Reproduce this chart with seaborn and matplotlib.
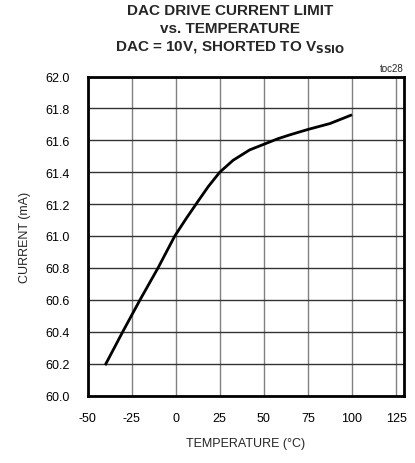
import matplotlib
matplotlib.use("Agg")
import matplotlib.pyplot as plt
import seaborn as sns
import pandas as pd

# Supply current limit vs. temperature
temperature_c = [-40, -30, -20.2, -10, -0.5, 6, 12.5, 18.5, 25, 32.6, 42, 50, 58, 65, 75, 87.5, 100]
current_ma = [60.19, 60.40, 60.60, 60.80, 61.00, 61.11, 61.215, 61.31, 61.40, 61.475, 61.54, 61.575,
              61.61, 61.635, 61.668, 61.705, 61.76]

x_ticks = [-50, -25, 0, 25, 50, 75, 100, 125]
y_ticks = [60.0, 60.2, 60.4, 60.6, 60.8, 61.0, 61.2, 61.4, 61.6, 61.8, 62.0]

df = pd.DataFrame({"temp": temperature_c, "current": current_ma})

sns.set_style("white")
plt.rcParams["font.family"] = ["Liberation Sans", "DejaVu Sans"]

fig = plt.figure(figsize=(4.15, 4.64), dpi=100)
ax = fig.add_axes([87.5 / 415, 1 - 396.5 / 464, (404 - 87.5) / 415, (396.5 - 77.5) / 464])

sns.lineplot(data=df, x="temp", y="current", ax=ax, color="black", linewidth=2.0,
             solid_joinstyle="round", solid_capstyle="butt")

ax.set_xlim(-50, 129.5)
ax.set_ylim(60.0, 62.0)
ax.set_xticks(x_ticks)
ax.set_yticks(y_ticks)
ax.set_xticklabels([str(t) for t in x_ticks])
ax.set_yticklabels([f"{t:.1f}" for t in y_ticks])
ax.tick_params(axis="both", length=0, labelsize=9, colors="black")
ax.tick_params(axis="y", pad=13)
ax.tick_params(axis="x", pad=12)

ax.grid(True, axis="x", color="#808080", linewidth=1.0)
ax.grid(True, axis="y", color="#333333", linewidth=1.0)
ax.set_axisbelow(True)
for s in ax.spines.values():
    s.set_visible(True)
    s.set_color("black")
    s.set_linewidth(2.0)

ax.set_xlabel("TEMPERATURE (°C)", fontsize=9, labelpad=9)
ax.set_ylabel("CURRENT (mA)", fontsize=9, labelpad=10)

fig.text(230 / 415, 1 - 11 / 464, "DAC DRIVE CURRENT LIMIT", ha="center", va="center",
         fontsize=11, fontweight="bold")
fig.text(230 / 415, 1 - 29 / 464, "vs. TEMPERATURE", ha="center", va="center",
         fontsize=11, fontweight="bold")
fig.text(230 / 415, 1 - 48 / 464, r"DAC = 10V, SHORTED TO V$_{\mathbf{SSIO}}$", ha="center", va="center",
         fontsize=11, fontweight="bold")
fig.text(404 / 415, 1 - 69 / 464, "toc28", ha="right", va="center", fontsize=7)

fig.savefig("out.png", dpi=100)
